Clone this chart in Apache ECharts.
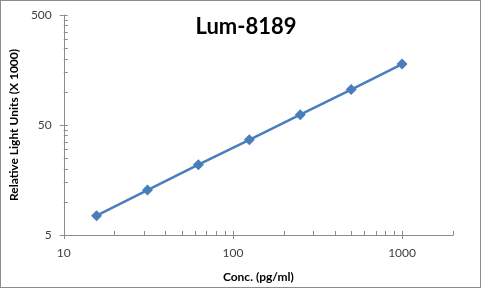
<!DOCTYPE html>
<html><head><meta charset="utf-8">
<script src="https://cdn.jsdelivr.net/npm/echarts@6/dist/echarts.min.js"></script>
<style>html,body{margin:0;padding:0;background:#fff}#c{position:absolute;left:0;top:0;width:482px;height:289px}#b{position:absolute;left:0;top:0;width:481px;height:288px;box-sizing:border-box;border:1px solid #8c8c8c;pointer-events:none}</style>
</head><body><div id="c"></div><div id="b"></div>
<script>
const title = 'Lum-8189';
const xName = 'Conc. (pg/ml)';
const yName = 'Relative Light Units (X 1000)';
const conc = [15.625, 31.25, 62.5, 125, 250, 500, 1000];
const rlu = [7.5, 12.8, 21.8, 36.7, 62, 105, 179];
const xMajor = [10, 100, 1000];
const xMinor = [20,30,40,50,60,70,80,90,200,300,400,500,600,700,800,900,2000];
const yMajor = [5, 50, 500];
const yMinor = [10,15,20,25,30,35,40,45,100,150,200,250,300,350,400,450];

const chart = echarts.init(document.getElementById('c'), null, {renderer:'canvas'});
const axisCol = '#8c8c8c';
const font = 'Lato, "Open Sans", sans-serif';
const plain = v => String(Math.round(v));
chart.setOption({
  animation:false,
  title:{text:title,left:241,top:11,textAlign:'center',textStyle:{fontFamily:font,fontWeight:'bold',fontSize:22,color:'#000'}},
  grid:{left:59,right:29,top:15,bottom:54,containLabel:false},
  xAxis:[{
    type:'log',logBase:10,min:10,max:2000,
    name:xName,nameLocation:'middle',nameGap:36,
    nameTextStyle:{fontFamily:font,fontWeight:'bold',fontSize:12,color:'#000'},
    axisLine:{show:true,lineStyle:{color:axisCol,width:1}},
    axisTick:{show:true,inside:false,length:4,customValues:xMajor,lineStyle:{color:axisCol}},
    axisLabel:{customValues:xMajor,formatter:plain,fontFamily:font,fontSize:12,color:'#404040',margin:12},
    splitLine:{show:false}
  },{
    type:'log',logBase:10,min:10,max:2000,position:'bottom',
    axisLine:{show:false},
    axisTick:{show:true,inside:true,length:4,customValues:xMajor.concat(xMinor),lineStyle:{color:axisCol}},
    axisLabel:{show:false},splitLine:{show:false}
  }],
  yAxis:[{
    type:'log',logBase:10,min:5,max:500,
    name:yName,nameLocation:'middle',nameGap:38,
    nameTextStyle:{fontFamily:font,fontWeight:'bold',fontSize:12,color:'#000'},
    axisLine:{show:true,lineStyle:{color:axisCol,width:1}},
    axisTick:{show:true,inside:false,length:4,customValues:yMajor,lineStyle:{color:axisCol}},
    axisLabel:{customValues:yMajor,formatter:plain,fontFamily:font,fontSize:12,color:'#404040',margin:12},
    splitLine:{show:false}
  },{
    type:'log',logBase:10,min:5,max:500,position:'left',
    axisLine:{show:false},
    axisTick:{show:true,inside:true,length:4,customValues:yMajor.concat(yMinor),lineStyle:{color:axisCol}},
    axisLabel:{show:false},splitLine:{show:false}
  }],
  series:[{
    type:'line',xAxisIndex:0,yAxisIndex:0,
    data:conc.map((c,i)=>[c,rlu[i]]),
    symbol:'diamond',symbolSize:11,
    lineStyle:{color:'#4a7ebb',width:2.5},
    itemStyle:{color:'#4a7ebb'}
  }]
});
</script></body></html>
